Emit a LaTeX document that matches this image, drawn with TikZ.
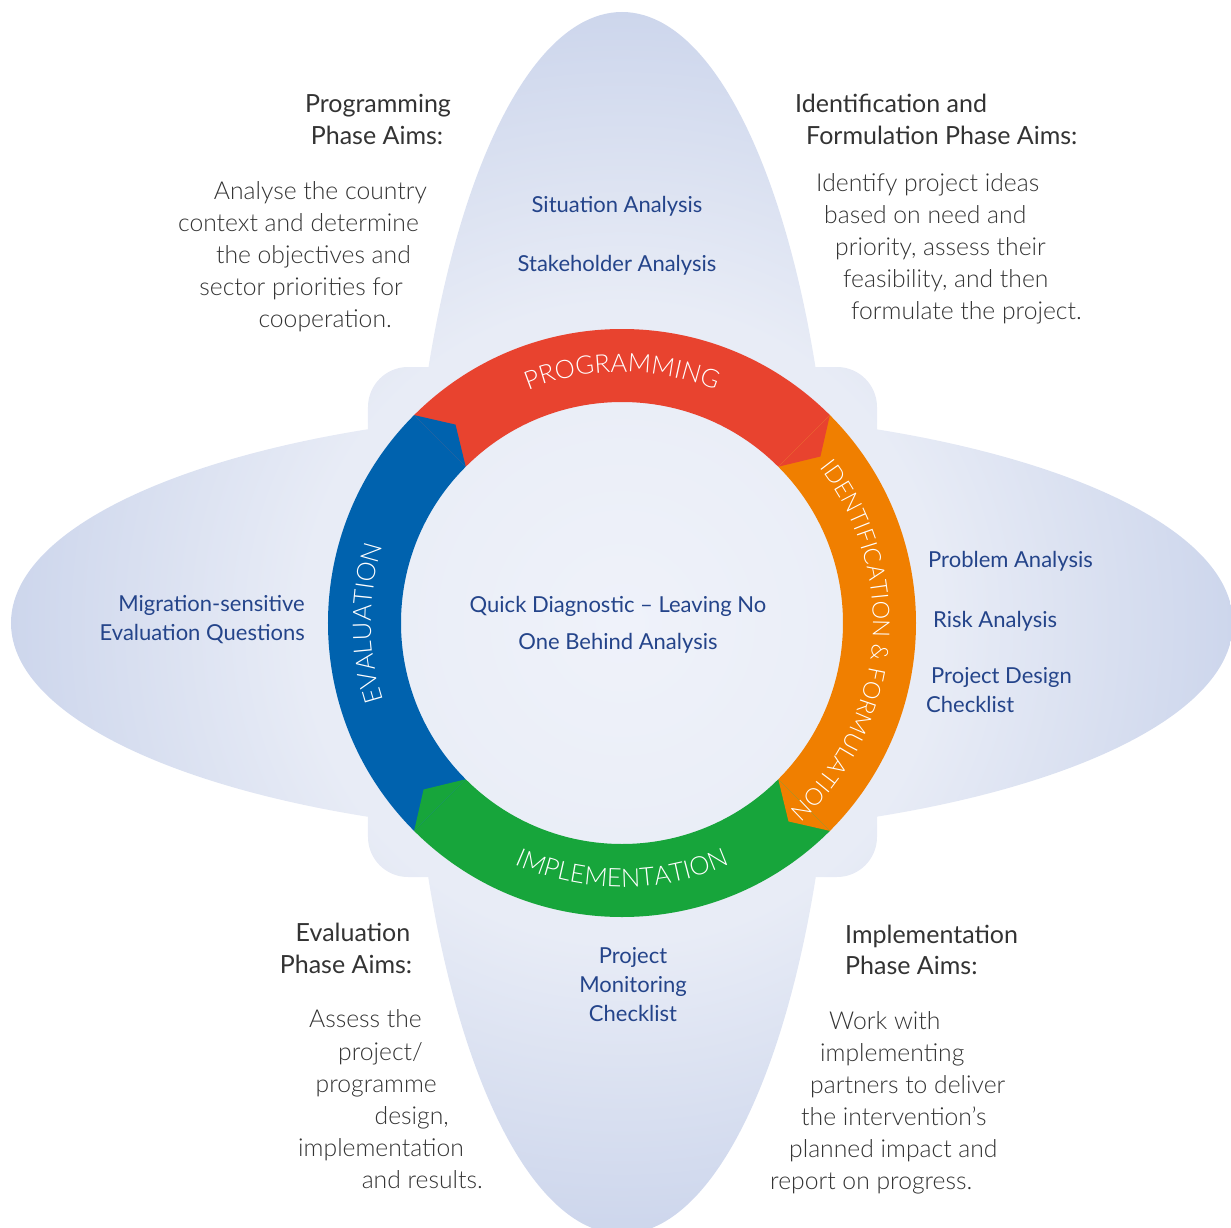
\documentclass[tikz,border=0pt]{standalone}
\usepackage{fontspec}
\setmainfont{Lato}
\IfFontExistsTF{Lato Light}{\newfontfamily\lightfont{Lato Light}}{\newfontfamily\lightfont{Lato}}
\usepackage{xcolor}
\usetikzlibrary{decorations.text}

\definecolor{progred}{HTML}{E8432F}
\definecolor{identorange}{HTML}{F07F00}
\definecolor{implgreen}{HTML}{17A53B}
\definecolor{evalblue}{HTML}{0062AE}
\definecolor{toolblue}{HTML}{24448A}
\definecolor{headgray}{HTML}{333333}
\definecolor{bodygray}{HTML}{333333}
\definecolor{petalin}{HTML}{EFF2FA}
\definecolor{petalmid}{HTML}{E8ECF6}
\definecolor{petalout}{HTML}{CDD6EC}
\pgfdeclareradialshading{petalshade}{\pgfpoint{0bp}{0bp}}{color(0bp)=(petalin); color(13bp)=(petalmid); color(25bp)=(petalout); color(50bp)=(petalout)}

\newcommand{\ringfont}{\lightfont\fontsize{25.5}{30}\selectfont\color{white}}
\newcommand{\ringfontsmall}{\lightfont\fontsize{23.5}{30}\selectfont\color{white}}

\begin{document}
\begin{tikzpicture}[x=1pt, y=1pt,
				head/.style={font=\fontsize{25}{30}\selectfont, text=headgray, inner sep=0pt},
				aim/.style={font=\lightfont\fontsize{24.7}{30}\selectfont, text=bodygray, inner sep=0pt},
				tool/.style={font=\fontsize{22}{28}\selectfont, text=toolblue, inner sep=0pt},
				ringtext/.style={decorate, decoration={text along path, text align=center}}]
				\useasboundingbox (-622,-604) rectangle (609,623);
				\shade[shading=petalshade] (0,0) ellipse [x radius=213, y radius=611]
					(0,0) ellipse [x radius=611, y radius=213]
					[rounded corners=40] (-254,-254) -- (255,-254) -- (255,256) -- (-254,256) -- cycle;
				\fill[progred] (135:294) arc[start angle=135, end angle=45, radius=294] -- (45:221) arc[start angle=45, end angle=135, radius=221] -- cycle;
				\fill[identorange] (45:294) arc[start angle=45, end angle=-45, radius=294] -- (-45:221) arc[start angle=-45, end angle=45, radius=221] -- cycle;
				\fill[implgreen] (-45:294) arc[start angle=-45, end angle=-135, radius=294] -- (-135:221) arc[start angle=-135, end angle=-45, radius=221] -- cycle;
				\fill[evalblue] (-135:294) arc[start angle=-135, end angle=-225, radius=294] -- (135:221) arc[start angle=135, end angle=225, radius=221] -- cycle;
				\fill[progred] (45:294) -- (40:259) -- (45:221) -- cycle;
				\fill[identorange] (-45:294) -- (-50:259) -- (-45:221) -- cycle;
				\fill[implgreen] (-135:294) -- (-140:259) -- (-135:221) -- cycle;
				\fill[evalblue] (135:294) -- (130:259) -- (135:221) -- cycle;
				\path[ringtext, decoration={text={|\ringfont|PROGRAMMING}}] (135:251) arc[start angle=135, end angle=45, radius=251];
				\path[ringtext, decoration={text={|\ringfontsmall|IDENTIFICATION {\&} FORMULATION}}] (57:251) arc[start angle=57, end angle=-67, radius=251];
				\path[ringtext, decoration={text={|\ringfont|IMPLEMENTATION}}] (-135:264) arc[start angle=-135, end angle=-45, radius=264];
				\path[ringtext, decoration={text={|\ringfont|EVALUATION}}] (-135:251) arc[start angle=225, end angle=135, radius=251];
				\node at (-244,510) (proghead1) [head, anchor=base] {Programming};
				\node at (-245,478) (proghead2) [head, anchor=base] {Phase Aims:};
				\node at (-195,423) (progaim1) [aim, anchor=base east] {Analyse the country};
				\node at (-203,391) (progaim2) [aim, anchor=base east] {context and determine};
				\node at (-211,359) (progaim3) [aim, anchor=base east] {the objectives and};
				\node at (-219,327) (progaim4) [aim, anchor=base east] {sector priorities for};
				\node at (-230,295) (progaim5) [aim, anchor=base east] {cooperation.};
				\node at (173,510) (identhead1) [head, anchor=base west] {Identification and};
				\node at (184,478) (identhead2) [head, anchor=base west] {Formulation Phase Aims:};
				\node at (194,431) (identaim1) [aim, anchor=base west] {Identify project ideas};
				\node at (202,399) (identaim2) [aim, anchor=base west] {based on need and};
				\node at (213,367) (identaim3) [aim, anchor=base west] {priority, assess their};
				\node at (221,335) (identaim4) [aim, anchor=base west] {feasibility, and then};
				\node at (229,303) (identaim5) [aim, anchor=base west] {formulate the project.};
				\node at (-5,410) (situation) [tool, anchor=base] {Situation Analysis};
				\node at (-5,351) (stakeholder) [tool, anchor=base] {Stakeholder Analysis};
				\node at (306,56) (problem) [tool, anchor=base west] {Problem Analysis};
				\node at (311,-4) (risk) [tool, anchor=base west] {Risk Analysis};
				\node at (309,-60) (design1) [tool, anchor=base west] {Project Design};
				\node at (304,-89) (design2) [tool, anchor=base west] {Checklist};
				\node at (-317,12) (questions1) [tool, anchor=base east] {Migration-sensitive};
				\node at (-317,-17) (questions2) [tool, anchor=base east] {Evaluation Questions};
				\node at (-4,11) (quick1) [tool, anchor=base] {Quick Diagnostic -- Leaving No};
				\node at (-4,-26) (quick2) [tool, anchor=base] {One Behind Analysis};
				\node at (11,-340) (monitor1) [tool, anchor=base] {Project};
				\node at (11,-369) (monitor2) [tool, anchor=base] {Monitoring};
				\node at (11,-398) (monitor3) [tool, anchor=base] {Checklist};
				\node at (-269,-318) (evalhead1) [head, anchor=base] {Evaluation};
				\node at (-276,-350) (evalhead2) [head, anchor=base] {Phase Aims:};
				\node at (-200,-404) (evalaim1) [aim, anchor=base east] {Assess the};
				\node at (-199,-437) (evalaim2) [aim, anchor=base east] {project/};
				\node at (-185,-469) (evalaim3) [aim, anchor=base east] {programme};
				\node at (-173,-501) (evalaim4) [aim, anchor=base east] {design,};
				\node at (-158,-533) (evalaim5) [aim, anchor=base east] {implementation};
				\node at (-139,-565) (evalaim6) [aim, anchor=base east] {and results.};
				\node at (223,-320) (implhead1) [head, anchor=base west] {Implementation};
				\node at (223,-351) (implhead2) [head, anchor=base west] {Phase Aims:};
				\node at (207,-406) (implaim1) [aim, anchor=base west] {Work with};
				\node at (198,-438) (implaim2) [aim, anchor=base west] {implementing};
				\node at (188,-470) (implaim3) [aim, anchor=base west] {partners to deliver};
				\node at (179,-502) (implaim4) [aim, anchor=base west] {the intervention’s};
				\node at (167,-534) (implaim5) [aim, anchor=base west] {planned impact and};
				\node at (148,-566) (implaim6) [aim, anchor=base west] {report on progress.};
			\end{tikzpicture}
\end{document}
